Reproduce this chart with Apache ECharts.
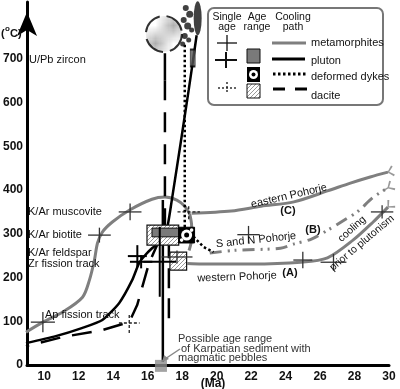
<!DOCTYPE html>
<html><head><meta charset="utf-8">
<script src="https://cdn.jsdelivr.net/npm/echarts@6/dist/echarts.min.js"></script>
<style>html,body{margin:0;padding:0;background:#fff}#c{width:400px;height:389px}</style>
</head><body><div id="c"></div>
<script>
// ---------- data (Ma, °C) ----------
const xTickLabels = [10,12,14,16,18,20,22,24,26,28,30];
const yTickLabels = [0,100,200,300,400,500,600,700];

const metamorphMain = [[8.94,75],[9.92,98],[11.07,121],[12.22,155],[12.62,194],[12.91,240],[13.09,279],[13.37,304],[13.95,327],[14.93,354],[16.25,379],[17.0,384],[17.69,377],[18.15,363],[18.44,345]];
const metamorphDrop = [[18.44,345],[18.55,318],[18.55,288],[18.4,262]];
const westernA = [[18.3,232],[19.13,231],[22.0,231],[24.88,235],[26.43,245],[27.93,286],[29.08,327],[29.94,361]];
const easternC = [[18.55,347],[20.85,352],[22.58,363],[24.48,373],[26.43,398],[27.76,416],[28.91,430],[29.94,441]];
const southNorthB = [[19.6,256],[21.0,262],[23.7,267],[24.5,277],[25.5,288],[26.43,308],[27.6,336],[28.16,350],[29.1,384],[29.94,405]];

const plutonPath = [[18.84,754],[18.38,629],[17.40,377],[17.0,293],[16.25,267],[15.85,251],[15.5,233],[15.1,194],[14.35,142],[13.37,103],[12.22,85],[10.67,66],[8.94,50]];
const plutonVertical = [[16.88,377],[16.88,7]];

const daciteStem = [[17.0,713],[17.0,651]];
const dacitePath = [[17.0,651],[17.0,304],[16.54,274],[16.08,233],[15.67,176],[15.39,137],[14.93,98],[13.37,80],[11.07,64],[8.94,43]];
const daciteLower = [[17.23,290],[17.23,85]];

const dykePath = [[18.15,732],[18.15,315],[18.84,286],[19.24,270],[19.82,258]];
const dykeBlobs = [[18.21,816,6],[18.44,802,7],[18.09,789,6],[18.32,775,7],[18.55,766,5],[18.15,752,6],[18.38,743,5],[18.03,734,5]];

const daciteUPb = [[16.94,757]];
const plutonUPb = [[18.9,793]];
const plutonRange = [[18.61,702]];
const karpatian = [[16.77,-2]];

// age-range boxes: [Ma from, Ma to, °C from, °C to]
const daciteBoxes = [[15.96,17.8,274,320],[17.29,18.26,217,258]];
const plutonBoxes = [[16.25,17.8,293,313]];
const dykeBoxes = [[17.8,18.72,279,315]];

// single ages: [Ma, °C, ±Ma, ±°C]
const metamorphCrosses = [[9.92,98,0.7,23],[13.2,297,0.66,17],[14.98,350,0.66,19],[21.85,298,0.65,20],[25.0,240,0.55,19],[26.78,235,0.75,19],[29.6,350,0.65,15],[17.7,247,0.9,15]];
const plutonCrosses = [[15.4,249,0.55,25],[15.62,236,0.65,15],[16.7,236,0.95,80]];
const daciteCrosses = [[14.93,96,0.6,23],[18.38,350,0.65,17]];

// ---------- helpers ----------
function hatchCanvas(){
  const c=document.createElement('canvas'); c.width=4; c.height=4;
  const g=c.getContext('2d'); g.fillStyle='#fff'; g.fillRect(0,0,4,4);
  g.strokeStyle='#9a9a9a'; g.lineWidth=1; g.beginPath();
  g.moveTo(-1,5); g.lineTo(5,-1); g.moveTo(-1,1); g.lineTo(1,-1); g.moveTo(3,5); g.lineTo(5,3); g.stroke();
  return c;
}
const hatch = {image: hatchCanvas(), repeat:'repeat'};
const GREY='#7f7f7f', FONT='Liberation Sans, Arial, sans-serif';

function lineS(data, color, width, type, smooth, z){
  return {type:'line', data, symbol:'none', showSymbol:false, smooth: smooth||0, silent:true,
    lineStyle:{color, width, type:type||'solid', cap:'butt'}, z: z||2, animation:false};
}
function boxS(data, fill, stroke, lw, z, dyke){
  return {type:'custom', data, z:z||5, silent:true, animation:false, clip:false,
    renderItem(params, api){
      const p1=api.coord([api.value(0),api.value(3)]), p2=api.coord([api.value(1),api.value(2)]);
      const r={type:'rect', shape:{x:p1[0],y:p1[1],width:p2[0]-p1[0],height:p2[1]-p1[1]}, style:{fill, stroke, lineWidth:lw}};
      if(!dyke) return r;
      const cx=(p1[0]+p2[0])/2, cy=(p1[1]+p2[1])/2;
      return {type:'group', children:[r,
        {type:'circle', shape:{cx, cy, r:5.5}, style:{fill:'#fff'}},
        {type:'circle', shape:{cx, cy, r:2.5}, style:{fill:'#000'}},
        {type:'circle', shape:{cx:cx+5, cy:cy-5, r:1.8}, style:{fill:'#fff'}},
        {type:'circle', shape:{cx:cx-5, cy:cy+5, r:1.8}, style:{fill:'#fff'}}]};
    }};
}
function crossS(data, color, width, dash, z){
  return {type:'custom', data, z:z||6, silent:true, animation:false, clip:false,
    renderItem(params, api){
      const x=api.value(0), y=api.value(1), ex=api.value(2), ey=api.value(3);
      const a=api.coord([x-ex,y]), b=api.coord([x+ex,y]), c=api.coord([x,y-ey]), d=api.coord([x,y+ey]);
      const st={stroke:color, lineWidth:width, lineDash:dash||null};
      return {type:'group', children:[
        {type:'line', shape:{x1:a[0],y1:a[1],x2:b[0],y2:b[1]}, style:st},
        {type:'line', shape:{x1:c[0],y1:c[1],x2:d[0],y2:d[1]}, style:st}]};
    }};
}
const forkPath='path://M0,9L9,9L16,2L18,4L11,10L18,16L16,18L9,11L0,11Z';
const ends=[
  {value:easternC[easternC.length-1], symbolRotate:15},
  {value:southNorthB[southNorthB.length-1], symbolRotate:31},
  {value:westernA[westernA.length-1], symbolRotate:45}];

function txt(text, x, y, o){
  o=o||{};
  return {type:'text', x, y, rotation:(o.rot||0)*Math.PI/180, z:50, silent:true,
    style:{text, fill:o.fill||'#111', font:(o.bold?'bold ':'')+(o.size||11)+'px '+FONT,
      align:o.align||'left', verticalAlign:'middle'}};
}
function gline(x1,y1,x2,y2,stroke,lw,dash){
  return {type:'line', z:50, silent:true, shape:{x1,y1,x2,y2}, style:{stroke, lineWidth:lw, lineDash:dash||null}};
}
function gcross(cx,cy,hw,hh,lw,dash){
  return [gline(cx-hw,cy,cx+hw,cy,'#111',lw,dash), gline(cx,cy-hh,cx,cy+hh,'#111',lw,dash)];
}

const chart = echarts.init(document.getElementById('c'), null, {renderer:'canvas'});
chart.setOption({
  animation:false,
  grid:{left:24, right:11, top:2, bottom:24},
  xAxis:{type:'value', min:9, max:30, interval:1,
    axisLine:{show:true, lineStyle:{color:'#000', width:3}},
    axisTick:{show:false}, splitLine:{show:false},
    axisLabel:{interval:0, margin:6, color:'#111', fontWeight:'bold', fontSize:12, fontFamily:FONT,
      formatter:v=> xTickLabels.includes(v)? String(v):''}},
  yAxis:{type:'value', min:0, max:830, interval:100,
    axisLine:{show:true, symbol:['none','arrow'], symbolSize:[15,24], symbolOffset:[0,-10], lineStyle:{color:'#000', width:3}},
    axisTick:{show:false}, splitLine:{show:false},
    axisLabel:{margin:4, color:'#111', fontWeight:'bold', fontSize:12, fontFamily:FONT,
      formatter:v=> yTickLabels.includes(v)? String(v):''}},
  series:[
    lineS(metamorphMain, GREY, 3, 'solid', 0.3, 2),
    lineS(metamorphDrop, GREY, 3, 'solid', 0.3, 2),
    lineS(westernA, GREY, 3, 'solid', 0.3, 2),
    lineS(easternC, GREY, 3, 'solid', 0.3, 2),
    lineS(southNorthB, GREY, 3, [12,6,2,5,2,6], 0.3, 2),
    lineS(plutonPath, '#000', 2.5, 'solid', 0.2, 3),
    lineS(plutonVertical, '#000', 2.5, 'solid', 0, 3),
    lineS(daciteStem, '#000', 2.5, 'solid', 0, 3),
    lineS(dacitePath, '#000', 2.5, [20,12], 0, 3),
    lineS(daciteLower, '#000', 2.5, [20,10], 0, 3),
    lineS(dykePath, '#000', 2.5, [2.5,2.5], 0, 3),
    {type:'scatter', data:dykeBlobs, symbol:'circle', symbolSize:d=>d[2], itemStyle:{color:'#111'}, z:4, silent:true, clip:false},
    {type:'scatter', data:daciteUPb, symbol:'circle', symbolSize:36, clip:false, silent:true, z:4,
      itemStyle:{color:hatch, borderColor:'#000', borderWidth:2, borderType:[22,7]}},
    {type:'scatter', data:plutonUPb, symbol:'circle', symbolSize:[8,34], clip:false, silent:true, z:4, itemStyle:{color:'#111'}},
    {type:'scatter', data:plutonRange, symbol:'rect', symbolSize:[5,17], clip:false, silent:true, z:4,
      itemStyle:{color:'#555', borderColor:'#000', borderWidth:1}},
    {type:'scatter', data:karpatian, symbol:'rect', symbolSize:12, clip:false, silent:true, z:8, itemStyle:{color:'#8c8c8c'}},
    boxS(daciteBoxes, hatch, '#111', 1.2, 5),
    boxS(plutonBoxes, '#7a7a7a', '#111', 1, 6),
    boxS(dykeBoxes, '#000', '#000', 1, 6, true),
    crossS(metamorphCrosses, '#333', 1.3, null, 7),
    crossS(plutonCrosses, '#000', 2, null, 7),
    crossS(daciteCrosses, '#222', 1.3, [3,2], 7),
    {type:'scatter', data:ends, symbol:forkPath, symbolSize:[12,11], clip:false, silent:true, z:4, itemStyle:{color:GREY}}
  ],
  graphic:[
    txt('(',1,34,{bold:true,size:11}), txt('o',5,29,{bold:true,size:8}), txt('C)',10,34,{bold:true,size:11}),
    txt('U/Pb zircon',29,60),
    txt('K/Ar muscovite',28,212), txt('K/Ar biotite',28,235),
    txt('K/Ar feldspar',28,253), txt('Zr fission track',28,264),
    txt('Ap fission track',45,315),
    txt('eastern Pohorje',289,196,{align:'center',rot:13}),
    txt('(C)',288,211,{align:'center',bold:true}),
    txt('S and N Pohorje',256,240,{align:'center',rot:6}),
    txt('(B)',313,230,{align:'center',bold:true}),
    txt('western Pohorje',237,277,{align:'center',rot:2}),
    txt('(A)',290,273,{align:'center',bold:true}),
    txt('cooling',352,229,{align:'center',rot:42,size:10.5}),
    txt('prior to plutonism',362,243,{align:'center',rot:40,size:10.5}),
    txt('Possible age range',178,339,{fill:'#333'}),
    txt('of Karpatian sediment with',181,349,{fill:'#333'}),
    txt('magmatic pebbles',178,358,{fill:'#333'}),
    gline(180,349,165,359,'#888',1.5),
    {type:'polygon', z:50, silent:true, shape:{points:[[162,362],[164,355],[169,359]]}, style:{fill:'#888'}},
    txt('(Ma)',213,384,{align:'center',bold:true,size:12}),
    // legend
    {type:'rect', z:40, silent:true, shape:{x:208,y:8,width:175,height:97,r:6}, style:{fill:'#fff', stroke:'#777', lineWidth:2}},
    txt('Single',227,17,{align:'center',size:10.5}), txt('age',227,27,{align:'center',size:10.5}),
    txt('Age',257,17,{align:'center',size:10.5}), txt('range',257,27,{align:'center',size:10.5}),
    txt('Cooling',293,17,{align:'center',size:10.5}), txt('path',293,27,{align:'center',size:10.5}),
    ...gcross(227,43,10,8,1.3),
    ...gcross(226,60,11,8,2),
    ...gcross(227,88,9,6,1.3,[2,2]),
    {type:'rect', z:50, silent:true, shape:{x:247,y:49,width:13,height:14}, style:{fill:'#7a7a7a', stroke:'#111', lineWidth:1}},
    {type:'rect', z:50, silent:true, shape:{x:247,y:67,width:13,height:15}, style:{fill:'#000'}},
    {type:'circle', z:51, silent:true, shape:{cx:253.5,cy:74.5,r:4.5}, style:{fill:'#fff'}},
    {type:'circle', z:52, silent:true, shape:{cx:253.5,cy:74.5,r:2}, style:{fill:'#000'}},
    {type:'rect', z:50, silent:true, shape:{x:247,y:84,width:13,height:14}, style:{fill:hatch, stroke:'#111', lineWidth:1}},
    gline(272,43,306,43,GREY,3),
    gline(272,59,305,59,'#000',3),
    gline(273,74,307,74,'#000',3,[2.5,2.5]),
    gline(273,89,285,89,'#000',3), gline(295,89,307,89,'#000',3),
    txt('metamorphites',311,43), txt('pluton',311,61), txt('deformed dykes',311,77), txt('dacite',311,96)
  ]
});
</script></body></html>
